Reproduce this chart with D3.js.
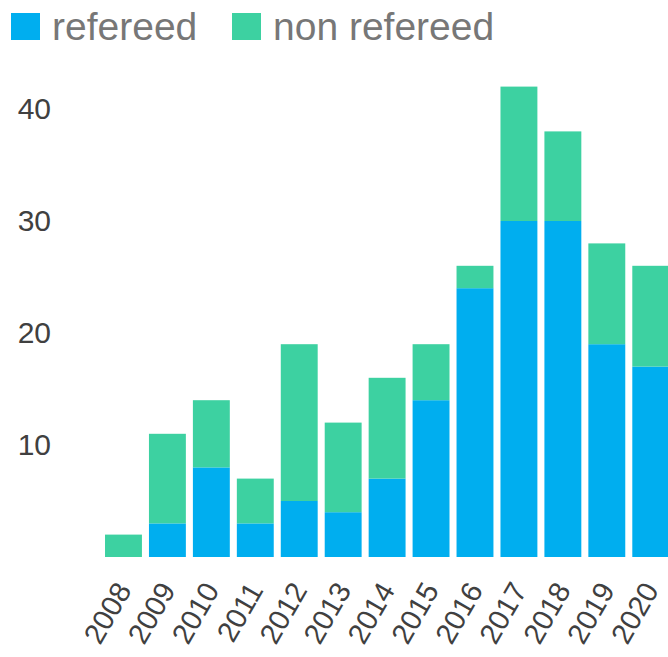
<!DOCTYPE html>
<html>
<head>
<meta charset="utf-8">
<script src="https://cdn.jsdelivr.net/npm/d3@7"></script>
<style>
  body { margin: 0; background: #fff; }
  svg { display: block; font-family: "Liberation Sans", Arial, sans-serif; }
</style>
</head>
<body>
<svg width="668" height="657"></svg>
<script>
  // data
  const years = ['2008', '2009', '2010', '2011', '2012', '2013', '2014',
                 '2015', '2016', '2017', '2018', '2019', '2020'];
  const refereed =    [0, 3, 8, 3, 5, 4, 7, 14, 24, 30, 30, 19, 17];
  const nonRefereed = [2, 8, 6, 4, 14, 8, 9, 5, 2, 12, 8, 9, 9];
  const yTicks = [10, 20, 30, 40];
  const seriesNames = ['refereed', 'non refereed'];
  const seriesColors = ['#00aeef', '#3dd1a1'];

  const svg = d3.select('svg');

  // build table for the stack layout
  const table = years.map((y, i) => ({ year: y, refereed: refereed[i], 'non refereed': nonRefereed[i] }));
  const stacked = d3.stack().keys(seriesNames)(table);

  const x = d3.scaleBand()
    .domain(years)
    .range([101.5, 101.5 + 13 * 43.94])
    .paddingInner(0.16)
    .paddingOuter(0.08);

  const y = d3.scaleLinear()
    .domain([0, 10])
    .range([557, 445]);

  const color = d3.scaleOrdinal().domain(seriesNames).range(seriesColors);

  // bars
  const layers = svg.append('g').selectAll('g')
    .data(stacked)
    .enter().append('g')
    .attr('fill', d => color(d.key));

  layers.selectAll('rect')
    .data(d => d)
    .enter().append('rect')
    .attr('x', d => x(d.data.year))
    .attr('width', x.bandwidth())
    .attr('y', d => y(d[1]))
    .attr('height', d => y(d[0]) - y(d[1]));

  // y axis, labels only
  const yAxis = d3.axisLeft(y).tickValues(yTicks).tickSize(0).tickPadding(0);
  const yG = svg.append('g').attr('transform', 'translate(51,0)').call(yAxis);
  yG.select('.domain').remove();
  yG.selectAll('text')
    .attr('font-size', 30)
    .attr('font-family', '"Liberation Sans", Arial, sans-serif')
    .attr('fill', '#404040');

  // x axis, rotated labels
  const xAxis = d3.axisBottom(x).tickSize(0).tickPadding(0);
  const xG = svg.append('g').attr('transform', 'translate(0,585)').call(xAxis);
  xG.select('.domain').remove();
  xG.selectAll('text')
    .attr('font-size', 29)
    .attr('font-family', '"Liberation Sans", Arial, sans-serif')
    .attr('fill', '#404040')
    .attr('text-anchor', 'end')
    .attr('dy', '0.35em')
    .attr('y', 0)
    .attr('transform', 'translate(0,0) rotate(-60)');

  // legend
  const legendX = [11, 232];
  const legend = svg.append('g').selectAll('g')
    .data(seriesNames)
    .enter().append('g')
    .attr('transform', (d, i) => `translate(${legendX[i]},13)`);

  legend.append('rect')
    .attr('width', 29)
    .attr('height', 27)
    .attr('fill', d => color(d));

  legend.append('text')
    .attr('x', 41)
    .attr('y', 27)
    .attr('font-size', 39)
    .attr('fill', '#777')
    .text(d => d);
</script>
</body>
</html>
